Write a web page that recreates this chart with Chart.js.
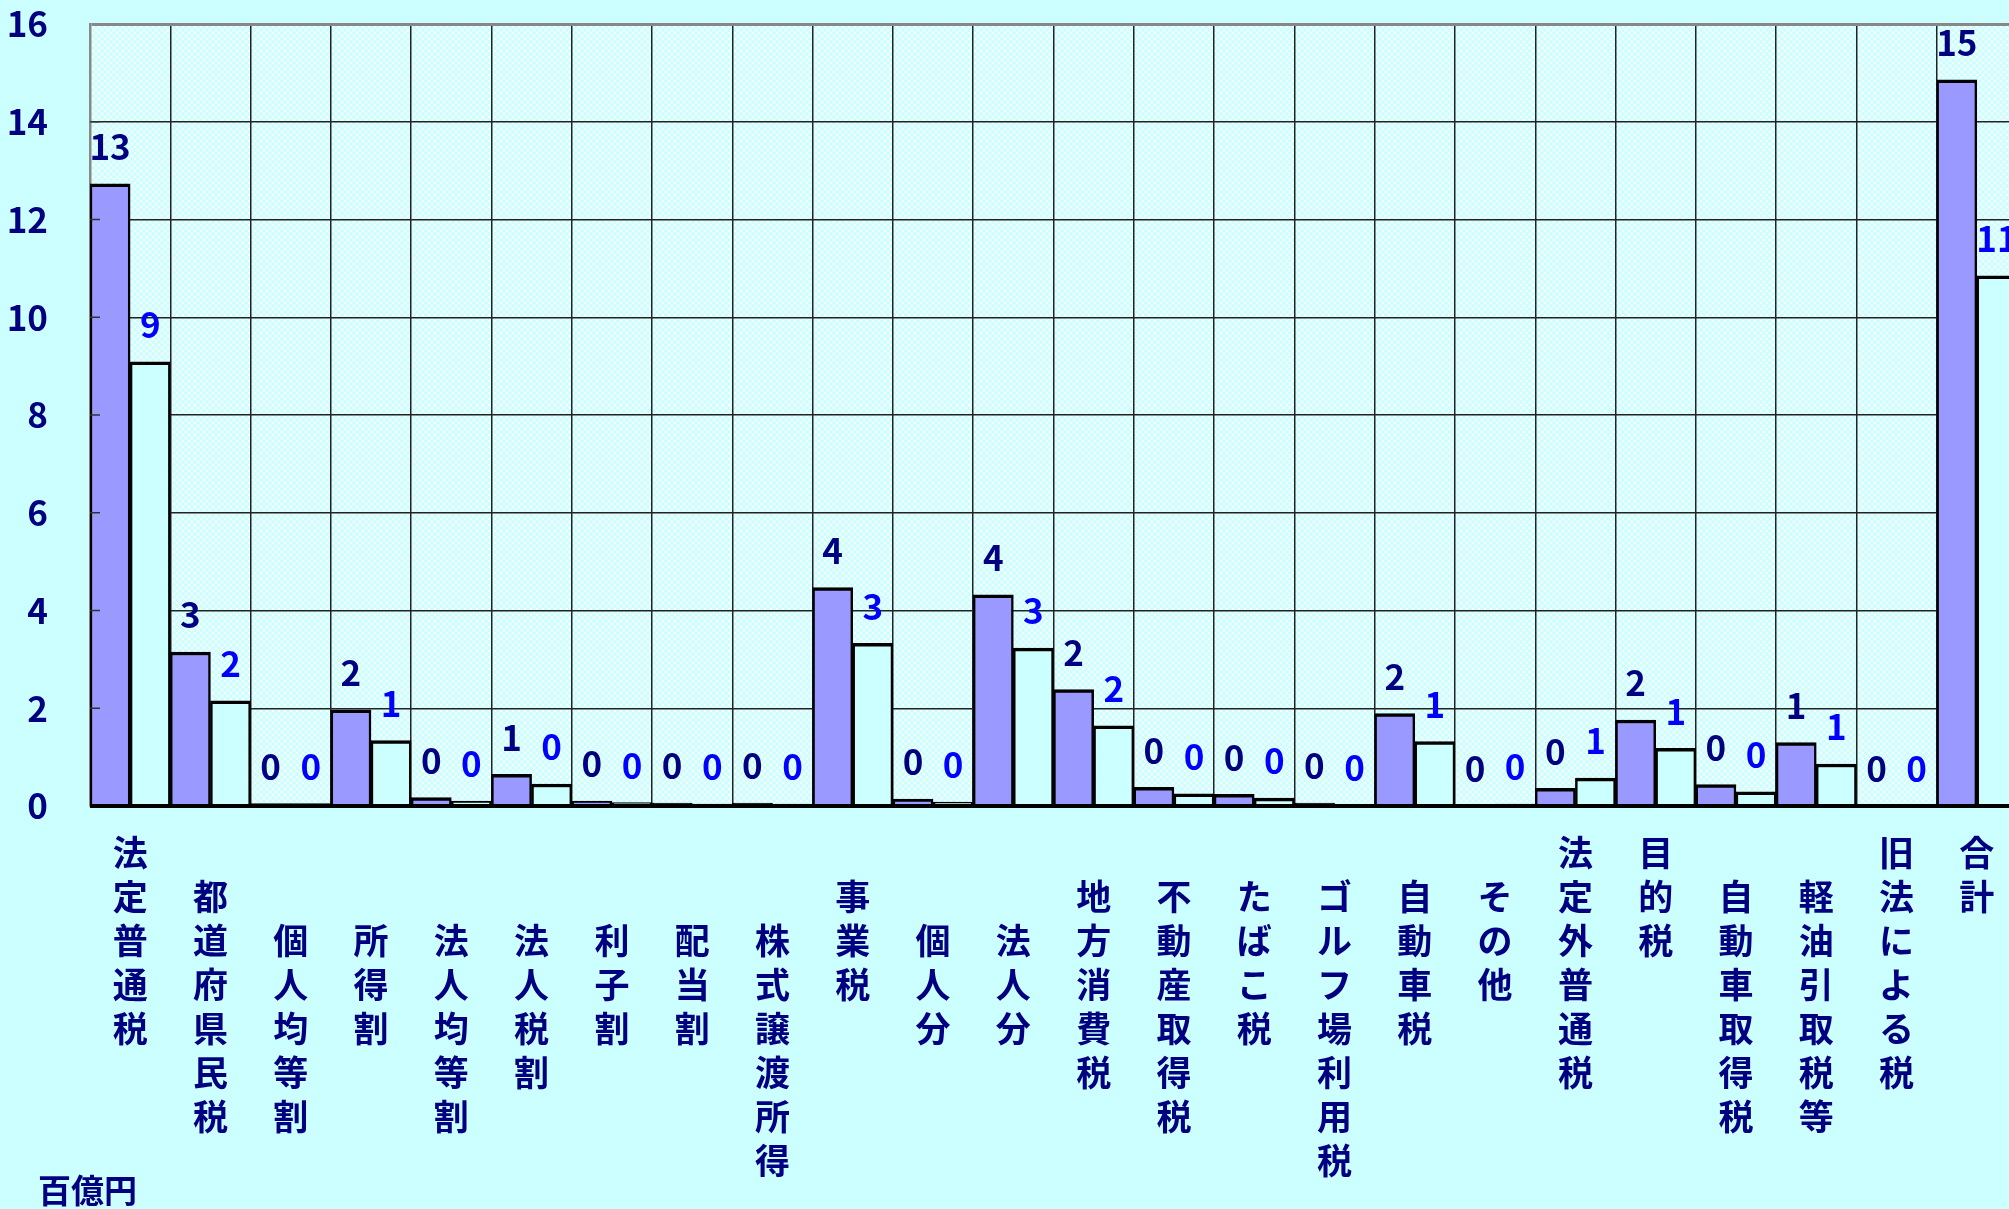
<!DOCTYPE html>
<html lang="ja">
<head>
<meta charset="UTF-8">
<title>税目別 収入額</title>
<script src="https://cdn.jsdelivr.net/npm/chart.js"></script>
<style>
  html, body { margin: 0; padding: 0; background: #ccffff; overflow: hidden; }
  canvas { display: block; }
</style>
</head>
<body>
<canvas id="chart" width="2030" height="1209"></canvas>
<script>
// 全角スペースは縦書きラベルの字下げ
const categories = [
  '法定普通税', '　都道府県民税', '　　個人均等割', '　　所得割', '　　法人均等割',
  '　　法人税割', '　　利子割', '　　配当割', '　　株式譲渡所得', '　事業税',
  '　　個人分', '　　法人分', '　地方消費税', '　不動産取得税', '　たばこ税',
  '　ゴルフ場利用税', '　自動車税', '　その他', '法定外普通税', '目的税',
  '　自動車取得税', '　軽油引取税等', '旧法による税', '合計'
];
const series1 = [12.73, 3.15, 0.05, 1.97, 0.17, 0.65, 0.10, 0.06, 0.06, 4.47, 0.14, 4.32,
                 2.38, 0.38, 0.24, 0.06, 1.89, 0.01, 0.36, 1.76, 0.44, 1.30, 0.01, 14.86];
const series2 = [9.09, 2.15, 0.05, 1.34, 0.10, 0.45, 0.07, 0.04, 0.04, 3.33, 0.08, 3.23,
                 1.64, 0.25, 0.16, 0.03, 1.32, 0.04, 0.57, 1.18, 0.29, 0.86, 0.00, 10.85];
const yTicks = [0, 2, 4, 6, 8, 10, 12, 14, 16];
const unitLabel = '百億円';

const FONT = "'Noto Sans CJK JP', 'Noto Sans', sans-serif";
const NUM_FONT = "'Liberation Sans Narrow', 'Noto Sans CJK JP', sans-serif";
const NAVY = '#000080';

function makePattern(ctx) {
  const c = document.createElement('canvas');
  c.width = 6; c.height = 6;
  const p = c.getContext('2d');
  p.fillStyle = '#ccffff';
  p.fillRect(0, 0, 6, 6);
  p.strokeStyle = 'rgba(255,255,255,0.9)';
  p.lineWidth = 1;
  p.beginPath();
  p.moveTo(0, 0); p.lineTo(6, 6);
  p.moveTo(6, 0); p.lineTo(0, 6);
  p.stroke();
  return ctx.createPattern(c, 'repeat');
}

const overlay = {
  id: 'overlay',
  beforeDraw(chart) {
    const { ctx, chartArea: a } = chart;
    ctx.save();
    ctx.fillStyle = makePattern(ctx);
    ctx.fillRect(a.left, a.top, a.right - a.left, a.bottom - a.top);
    ctx.restore();
  },
  afterDatasetsDraw(chart) {
    const { ctx, chartArea: a, scales } = chart;
    ctx.save();
    // 軸線
    ctx.strokeStyle = '#000';
    ctx.lineWidth = 4;
    ctx.beginPath();
    ctx.moveTo(a.left, a.bottom);
    ctx.lineTo(a.right, a.bottom);
    ctx.stroke();
    // 内向き目盛
    ctx.strokeStyle = '#333';
    ctx.lineWidth = 1.5;
    yTicks.slice(1, -1).forEach(v => {
      const y = scales.y.getPixelForValue(v);
      ctx.beginPath();
      ctx.moveTo(a.left, y);
      ctx.lineTo(a.left + 10, y);
      ctx.stroke();
    });
    // 値ラベル
    ctx.font = 'bold 35px ' + NUM_FONT;
    ctx.textAlign = 'center';
    ctx.textBaseline = 'middle';
    chart.data.datasets.forEach((ds, i) => {
      ctx.fillStyle = i === 0 ? NAVY : '#0000ff';
      chart.getDatasetMeta(i).data.forEach((el, j) => {
        ctx.fillText(String(Math.round(ds.data[j])), el.x, el.y - 37);
      });
    });
    // 単位
    ctx.fillStyle = NAVY;
    ctx.font = 'bold 33px ' + FONT;
    ctx.textAlign = 'left';
    ctx.fillText(unitLabel, 38, 1190);
    ctx.restore();
  }
};

const barBorder = { top: 3.5, left: 2.5, right: 2.5, bottom: 0 };

new Chart(document.getElementById('chart'), {
  type: 'bar',
  data: {
    labels: categories.map(s => [...s]),
    datasets: [
      { data: series1, backgroundColor: '#9999ff', borderColor: '#000', borderWidth: barBorder },
      { data: series2, backgroundColor: '#ccffff', borderColor: '#000', borderWidth: barBorder }
    ]
  },
  options: {
    responsive: false,
    animation: false,
    layout: { padding: { top: 24, right: 13, left: 0, bottom: 0 } },
    plugins: { legend: { display: false }, tooltip: { enabled: false } },
    datasets: { bar: { categoryPercentage: 1, barPercentage: 1 } },
    scales: {
      x: {
        afterFit: axis => { axis.height = 403; },
        border: { display: false },
        grid: { color: '#222', lineWidth: 1.5, drawTicks: false },
        ticks: {
          autoSkip: false, maxRotation: 0, minRotation: 0, padding: 25,
          color: NAVY,
          font: { family: FONT, size: 35, weight: 'bold', lineHeight: '44px' }
        }
      },
      y: {
        min: yTicks[0],
        max: yTicks[yTicks.length - 1],
        afterFit: axis => {
          axis.width = 90;
          axis.paddingTop = 0;
          axis.paddingBottom = 0;
        },
        border: { color: '#888', width: 2.5 },
        grid: {
          drawTicks: false,
          color: c => c.tick.value === yTicks[yTicks.length - 1] ? '#888' : '#222',
          lineWidth: c => c.tick.value === yTicks[yTicks.length - 1] ? 3 : 1.5
        },
        ticks: {
          stepSize: yTicks[1] - yTicks[0],
          padding: 42,
          color: NAVY,
          font: { family: NUM_FONT, size: 35, weight: 'bold' }
        }
      }
    }
  },
  plugins: [overlay]
});
</script>
</body>
</html>
